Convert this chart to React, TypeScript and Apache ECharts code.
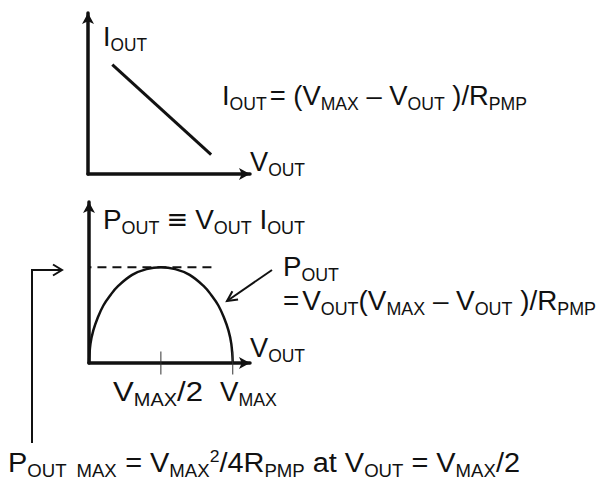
import React, { useEffect, useRef } from "react";
import * as echarts from "echarts";

// Upper plot: output current falls linearly with output voltage
const ivLine: number[][] = [
  [0.15, 0.68],
  [0.76, 0.12],
];

// Lower plot: output power versus output voltage (V_MAX = 1, P_OUT,MAX = 1)
const powerCurve: number[][] = [
  [0, 0],
  [0.01, 0.2],
  [0.03, 0.34],
  [0.06, 0.47],
  [0.1, 0.6],
  [0.15, 0.71],
  [0.2, 0.8],
  [0.3, 0.92],
  [0.4, 0.98],
  [0.5, 1],
  [0.6, 0.98],
  [0.7, 0.92],
  [0.8, 0.8],
  [0.85, 0.71],
  [0.9, 0.6],
  [0.94, 0.47],
  [0.97, 0.34],
  [0.99, 0.2],
  [1, 0],
];

// Maximum-power guide line and the two marked voltages
const pMaxLevel = 1;
const pMaxSpan = [-0.15, 0.89];
const tickValues = [0.5, 1];
const tickHalf = 0.12;

const INK = "#111";
const FONT = "'Liberation Sans', Arial, Helvetica, sans-serif";
const SYMBOL_FONT = "'DejaVu Sans', 'Liberation Sans', sans-serif";

// run kinds: n = normal, s = subscript, p = superscript, e = symbol; a number is a gap in px
type Kind = "n" | "s" | "p" | "e";
type Run = [string, Kind] | number;
const SIZE: Record<Kind, number> = { n: 28, s: 18, p: 17, e: 26 };
const SHIFT: Record<Kind, number> = { n: 0, s: 5, p: -10, e: -1 };
const FAMILY: Record<Kind, string> = { n: FONT, s: FONT, p: FONT, e: SYMBOL_FONT };

let measureCtx: CanvasRenderingContext2D | null = null;
function measure(text: string, k: Kind) {
  const size = SIZE[k];
  if (!measureCtx) measureCtx = document.createElement("canvas").getContext("2d");
  if (!measureCtx) return text.length * size * 0.55;
  measureCtx.font = `${size}px ${FAMILY[k]}`;
  return measureCtx.measureText(text).width;
}

// Lay out a formula as a row of text pieces sharing one baseline,
// optionally fitted horizontally to a given width
function formula(x: number, baseline: number, runs: Run[], width?: number) {
  const pieces: { t: string; k: Kind; off: number }[] = [];
  let cx = 0;
  for (const r of runs) {
    if (typeof r === "number") {
      cx += r;
      continue;
    }
    const [t, k] = r;
    pieces.push({ t, k, off: cx });
    cx += measure(t, k);
  }
  const sx = width ? width / cx : 1;
  return pieces.map(({ t, k, off }) => {
    const fs = SIZE[k];
    return {
      type: "text",
      x: x + off * sx,
      y: baseline + SHIFT[k] - 0.3465 * fs,
      scaleX: sx,
      silent: true,
      style: {
        text: t,
        fill: INK,
        fontSize: fs,
        fontFamily: FAMILY[k],
        align: "left",
        verticalAlign: "middle",
      },
    };
  });
}

function openArrow(tip: number[], from: number[], len = 10, half = 5) {
  const dx = tip[0] - from[0];
  const dy = tip[1] - from[1];
  const d = Math.hypot(dx, dy);
  const ux = dx / d;
  const uy = dy / d;
  const bx = tip[0] - ux * len;
  const by = tip[1] - uy * len;
  return {
    type: "polyline",
    silent: true,
    shape: { points: [[bx - uy * half, by + ux * half], tip, [bx + uy * half, by - ux * half]] },
    style: { stroke: INK, lineWidth: 2, fill: "none" },
  };
}

const axisLine = {
  show: true,
  symbol: ["none", "arrow"],
  symbolSize: [9, 11],
  lineStyle: { color: INK, width: 3.5 },
};

export default function App() {
  const ref = useRef<HTMLDivElement>(null);

  useEffect(() => {
    if (!ref.current) return;
    const chart = echarts.init(ref.current, null, { renderer: "svg" });

    const tickSeries = tickValues.map((v) => ({
      type: "line",
      xAxisIndex: 1,
      yAxisIndex: 1,
      data: [
        [v, -tickHalf],
        [v, tickHalf],
      ],
      symbol: "none",
      clip: false,
      lineStyle: { color: "#333", width: 1 },
      silent: true,
    }));

    chart.setOption({
      animation: false,
      backgroundColor: "#fff",
      grid: [
        { left: 88, right: 350, top: 13, bottom: 307 },
        { left: 89, right: 350, top: 202, bottom: 118 },
      ],
      xAxis: [0, 1].map((i) => ({
        gridIndex: i,
        type: "value",
        min: 0,
        max: i === 0 ? 1 : 1.12,
        axisLine,
        axisTick: { show: false },
        axisLabel: { show: false },
        splitLine: { show: false },
      })),
      yAxis: [0, 1].map((i) => ({
        gridIndex: i,
        type: "value",
        min: 0,
        max: i === 0 ? 1 : 1.68,
        axisLine,
        axisTick: { show: false },
        axisLabel: { show: false },
        splitLine: { show: false },
      })),
      series: [
        {
          type: "line",
          xAxisIndex: 0,
          yAxisIndex: 0,
          data: ivLine,
          symbol: "none",
          lineStyle: { color: INK, width: 3 },
          silent: true,
        },
        {
          type: "line",
          xAxisIndex: 1,
          yAxisIndex: 1,
          data: powerCurve,
          symbol: "none",
          smooth: 0.4,
          lineStyle: { color: INK, width: 2.5 },
          silent: true,
        },
        {
          type: "line",
          xAxisIndex: 1,
          yAxisIndex: 1,
          data: pMaxSpan.map((x) => [x, pMaxLevel]),
          symbol: "none",
          clip: false,
          lineStyle: { color: INK, width: 2, type: [9, 6] },
          silent: true,
        },
        ...tickSeries,
      ],
      graphic: [
        ...formula(103, 46, [["I", "n"], ["OUT", "s"]], 44),
        ...formula(250, 171, [["V", "n"], ["OUT", "s"]], 55),
        ...formula(
          222,
          105,
          [
            ["I", "n"], ["OUT", "s"], 3, ["= (V", "n"], ["MAX", "s"], [" – V", "n"],
            ["OUT", "s"], [" )/R", "n"], ["PMP", "s"],
          ],
          305
        ),
        ...formula(
          103,
          229,
          [
            ["P", "n"], ["OUT", "s"], 7, ["≡", "e"], 7, ["V", "n"], ["OUT", "s"],
            [" I", "n"], ["OUT", "s"],
          ],
          202
        ),
        ...formula(283, 276, [["P", "n"], ["OUT", "s"]], 56),
        ...formula(
          283,
          310,
          [
            ["=", "n"], 3, ["V", "n"], ["OUT", "s"], ["(V", "n"], ["MAX", "s"], [" – V", "n"],
            ["OUT", "s"], [" )/R", "n"], ["PMP", "s"],
          ],
          313
        ),
        ...formula(250, 357, [["V", "n"], ["OUT", "s"]], 55),
        ...formula(113, 401, [["V", "n"], ["MAX", "s"], ["/2", "n"]], 90),
        ...formula(220, 401, [["V", "n"], ["MAX", "s"]], 57),
        ...formula(
          8,
          472,
          [
            ["P", "n"], ["OUT  MAX", "s"], [" = V", "n"], ["MAX", "s"], ["2", "p"],
            ["/4R", "n"], ["PMP", "s"], [" at V", "n"], ["OUT", "s"], [" = V", "n"],
            ["MAX", "s"], ["/2", "n"],
          ],
          512
        ),
        {
          type: "polyline",
          silent: true,
          shape: { points: [[32, 443], [32, 270], [62, 270]] },
          style: { stroke: INK, lineWidth: 2, fill: "none" },
        },
        openArrow([62, 270], [32, 270], 9, 5.5),
        {
          type: "line",
          silent: true,
          shape: { x1: 272, y1: 270, x2: 227, y2: 301 },
          style: { stroke: INK, lineWidth: 2 },
        },
        openArrow([227, 301], [272, 270], 10, 5),
      ],
    });

    return () => chart.dispose();
  }, []);

  return <div ref={ref} style={{ width: 600, height: 481, position: "absolute", left: 0, top: 0 }} />;
}
